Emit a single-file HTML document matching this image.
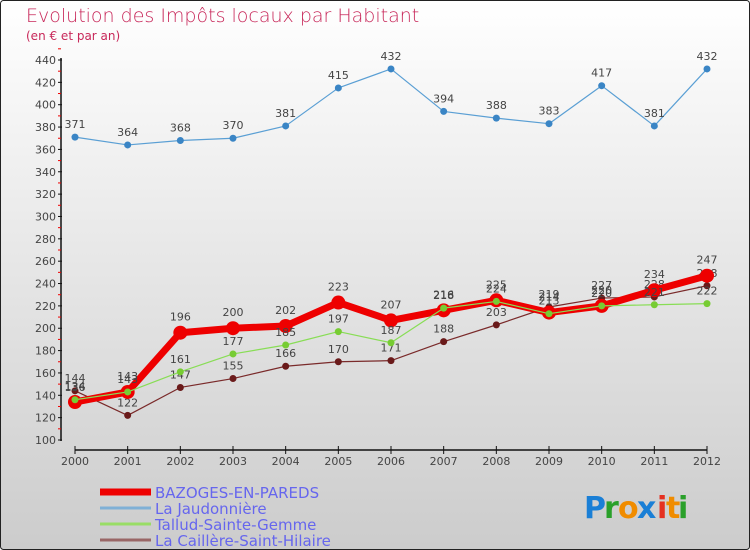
<!DOCTYPE html>
<html><head><meta charset="utf-8"><style>
body{margin:0;background:#fff}
#wrap{position:relative;width:750px;height:550px;overflow:hidden}
svg text{font-family:"DejaVu Sans","Liberation Sans",sans-serif}
</style></head><body>
<div id="wrap">
<svg id="svg" width="750" height="550" xmlns="http://www.w3.org/2000/svg">
<defs><linearGradient id="bg" x1="0" y1="0" x2="0" y2="1"><stop offset="0" stop-color="#ffffff"/><stop offset="1" stop-color="#cccccc"/></linearGradient></defs>
<rect x="0.5" y="0.5" width="749" height="549" rx="3" fill="url(#bg)" stroke="#222"/>
<text x="26" y="22" font-size="19" fill="#c8285a" style="font-weight:200">Evolution des Impôts locaux par Habitant</text>
<text x="26" y="40" font-size="12" fill="#c8285a">(en € et par an)</text>
<g id="axes"></g><g id="series"></g><g id="legend"></g>
<g font-size="30" font-weight="bold">
<text x="584" y="518" fill="#1a7fd6">P</text><text x="604" y="518" fill="#2aa02a">r</text><text x="618" y="518" fill="#f08c00">o</text><text x="637" y="518" fill="#1a7fd6">x</text><text x="657" y="518" fill="#e53020">i</text><text x="666" y="518" fill="#f08c00">t</text><text x="678" y="518" fill="#2aa02a">i</text>
</g>
</svg></div>
<script>
const years=[2000,2001,2002,2003,2004,2005,2006,2007,2008,2009,2010,2011,2012];
const bazoges=[134,143,196,200,202,223,207,216,225,214,220,234,247];
const jaudonniere=[371,364,368,370,381,415,432,394,388,383,417,381,432];
const tallud=[136,143,161,177,185,197,187,218,224,213,220,221,222];
const caillere=[144,122,147,155,166,170,171,188,203,219,227,228,238];
const yTicks=[100,120,140,160,180,200,220,240,260,280,300,320,340,360,380,400,420,440];
const NS="http://www.w3.org/2000/svg";
const x=i=>75+i*(707-75)/(years.length-1);
const y=v=>440-(v-100)*380/340;
function mk(t,a,p){const e=document.createElementNS(NS,t);for(const k in a)e.setAttribute(k,a[k]);p.appendChild(e);return e;}
const ax=document.getElementById('axes');
let l=mk('line',{x1:61,y1:58,x2:61,y2:441,stroke:'#111','stroke-width':1.5},ax);


yTicks.forEach(v=>{
 mk('line',{x1:58,x2:62,y1:y(v),y2:y(v),stroke:'#111'},ax);
 mk('line',{x1:58,x2:61,y1:y(v+10),y2:y(v+10),stroke:'#e00'},ax);
 const t=mk('text',{x:56,y:y(v)+4,'font-size':11,'text-anchor':'end',fill:'#444'},ax);t.textContent=v;
 
 
});
l=mk('line',{x1:75,y1:450,x2:707,y2:450,stroke:'#111','stroke-width':1.5},ax);


years.forEach((yr,i)=>{
 mk('line',{x1:x(i),x2:x(i),y1:446,y2:454,stroke:'#111'},ax);
 const t=mk('text',{x:x(i),y:465,'font-size':11,'text-anchor':'middle',fill:'#444'},ax);t.textContent=yr;
 
 
});
const S=document.getElementById('series');
function series(name,data,color,w,r,dot,labels){
 const g=mk('g',{},S);
 
 
 mk('polyline',{points:data.map((v,i)=>x(i)+','+y(v)).join(' '),fill:'none',stroke:color,'stroke-width':w,'stroke-linejoin':'round'},g);
 data.forEach((v,i)=>{
  const c=mk('circle',{cx:x(i),cy:y(v),r:r,fill:dot},g);
  
  
  if(labels){const t=mk('text',{x:x(i),y:y(v)-9-(r>4?3:0),'font-size':11,'text-anchor':'middle',fill:'#444'},g);t.textContent=v;}
 });
}
series('series-la-caillere',caillere,'#7a2a2a',1.2,3.5,'#6a1a1a',true);
series('series-bazoges',bazoges,'#ee0000',7,7,'#ee0000',true);
series('series-tallud',tallud,'#88dd55',1.2,3.5,'#77cc33',true);
series('series-la-jaudonniere',jaudonniere,'#5a9fd4',1.2,3.5,'#3a85c5',true);
const L=document.getElementById('legend');
const names=['BAZOGES-EN-PAREDS','La Jaudonnière','Tallud-Sainte-Gemme','La Caillère-Saint-Hilaire'];
const cols=['#ee0000','#7fb0d6','#99dd66','#996666'];
const ws=[7,3,3,3];
names.forEach((n,i)=>{
 const g=mk('g',{},L);
 
 
 const yy=492+i*16;
 mk('line',{x1:100,x2:151,y1:yy,y2:yy,stroke:cols[i],'stroke-width':ws[i]},g);
 const t=mk('text',{x:155,y:yy+6,'font-size':15,fill:'#6666ee'},g);t.textContent=n;
});
</script>
</body></html>
